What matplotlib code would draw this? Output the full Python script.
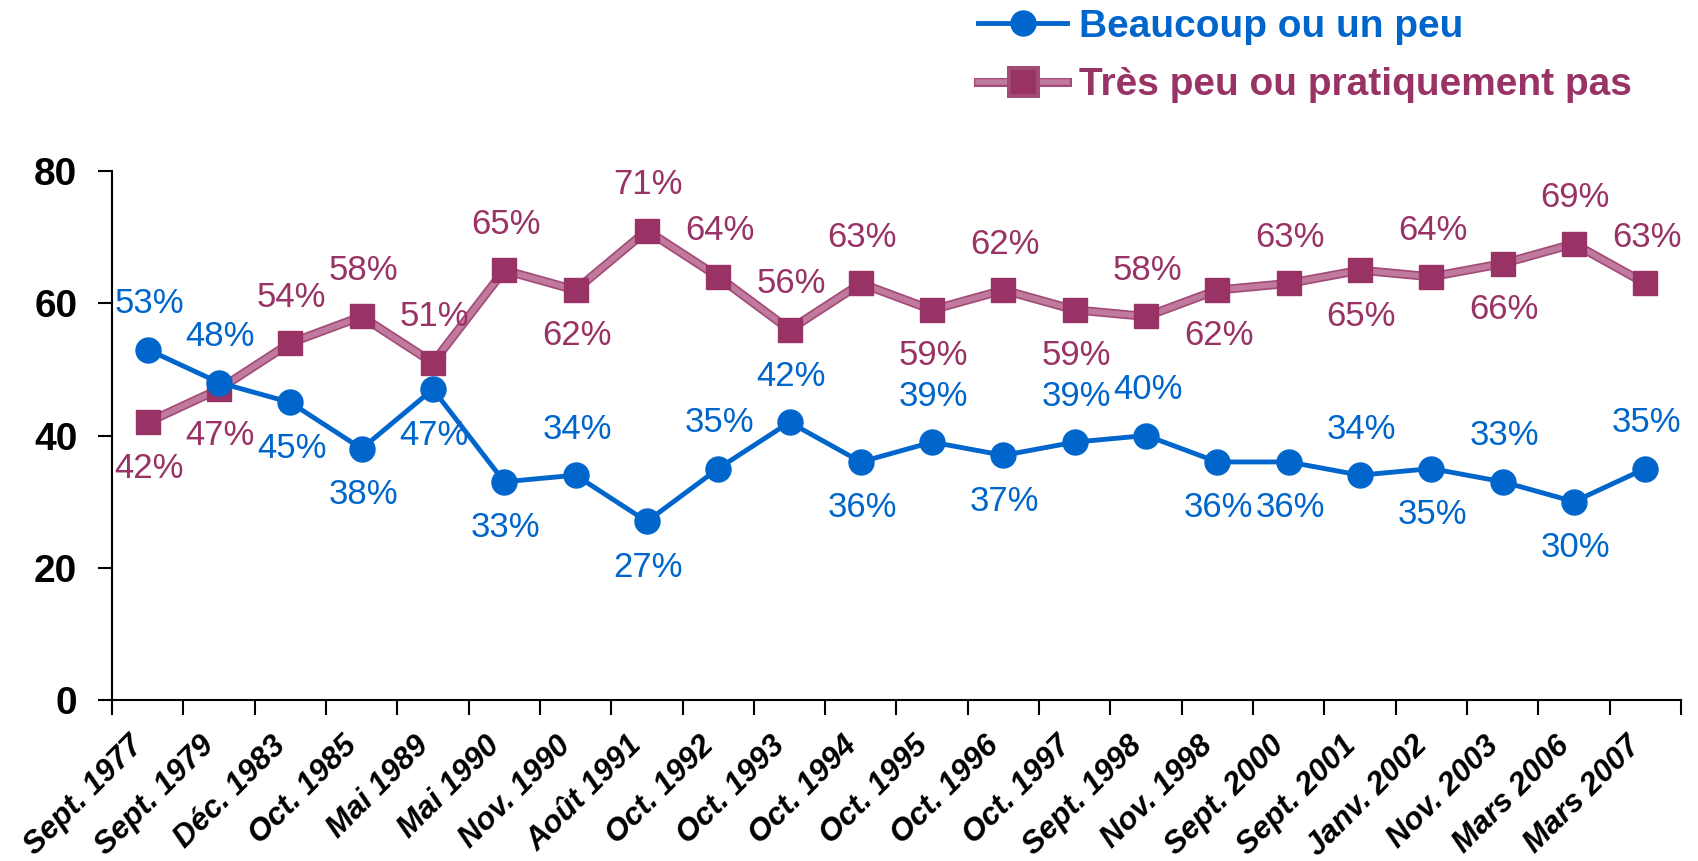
import matplotlib
matplotlib.use('Agg')
import matplotlib.pyplot as plt
import matplotlib.patheffects as pe
from matplotlib.lines import Line2D

# données
periodes = ["Sept. 1977", "Sept. 1979", "Déc. 1983", "Oct. 1985", "Mai 1989", "Mai 1990",
            "Nov. 1990", "Août 1991", "Oct. 1992", "Oct. 1993", "Oct. 1994", "Oct. 1995",
            "Oct. 1996", "Oct. 1997", "Sept. 1998", "Nov. 1998", "Sept. 2000", "Sept. 2001",
            "Janv. 2002", "Nov. 2003", "Mars 2006", "Mars 2007"]
beaucoup = [53, 48, 45, 38, 47, 33, 34, 27, 35, 42, 36, 39, 37, 39, 40, 36, 36, 34, 35, 33, 30, 35]
tres_peu = [42, 47, 54, 58, 51, 65, 62, 71, 64, 56, 63, 59, 62, 59, 58, 62, 63, 65, 64, 66, 69, 63]
# position des étiquettes : 1 = au-dessus, -1 = en dessous
pos_beaucoup = [1, 1, -1, -1, -1, -1, 1, -1, 1, 1, -1, 1, -1, 1, 1, -1, -1, 1, -1, 1, -1, 1]
pos_tres_peu = [-1, -1, 1, 1, 1, 1, -1, 1, 1, 1, 1, -1, 1, -1, 1, -1, 1, -1, 1, -1, 1, 1]

BLEU = "#0066CC"
BORDEAUX = "#993366"
ROSE = "#C07A9E"

plt.rcParams['font.family'] = ['Liberation Sans', 'DejaVu Sans']

fig = plt.figure(figsize=(16.99, 8.61), dpi=100)
ax = fig.add_axes([112 / 1699, 1 - 700 / 861, (1681 - 112) / 1699, (700 - 171) / 861])

# ligne "texturée" du bordeaux
trait = [pe.Stroke(linewidth=6.5, foreground="#A34C78"), pe.Normal()]

x = list(range(len(periodes)))
ax.plot(x, tres_peu, color=ROSE, lw=4, zorder=2, path_effects=trait)
ax.plot(x, tres_peu, ls='none', marker='s', ms=17, color=BORDEAUX, zorder=3)
ax.plot(x, beaucoup, color=BLEU, lw=3.5, marker='o', ms=18, zorder=4)

for xi, v, p in zip(x, beaucoup, pos_beaucoup):
    ax.annotate(f"{v}%", (xi, v), xytext=(1, 33 * p), textcoords='offset points',
                ha='center', va='center', fontsize=25, color=BLEU, zorder=5)
for xi, v, p in zip(x, tres_peu, pos_tres_peu):
    ax.annotate(f"{v}%", (xi, v), xytext=(1, 33 * p), textcoords='offset points',
                ha='center', va='center', fontsize=25, color=BORDEAUX, zorder=5)

ax.set_xlim(-0.5, len(periodes) - 0.5)
ax.set_ylim(0, 80)
ax.set_yticks([0, 20, 40, 60, 80])
ax.tick_params(axis='y', direction='out', length=10, width=1.5, pad=15, labelsize=28)
for lab in ax.get_yticklabels():
    lab.set_fontweight('bold')
ax.set_xticks([i - 0.5 for i in range(len(periodes) + 1)])
ax.set_xticklabels([])
ax.tick_params(axis='x', direction='out', length=11, width=1.5)
for s in ['top', 'right']:
    ax.spines[s].set_visible(False)
for s in ['left', 'bottom']:
    ax.spines[s].set_linewidth(1.5)

for xi, lab in zip(x, periodes):
    ax.annotate(lab, (xi, 0), xycoords=('data', 'axes fraction'), xytext=(-14, -22),
                textcoords='offset points', ha='right', va='top', rotation=45,
                rotation_mode='anchor', fontsize=22.5, fontweight='bold', fontstyle='italic')

handles = [Line2D([], [], color=BLEU, lw=3.5, marker='o', ms=18),
           Line2D([], [], color=ROSE, lw=4, marker='s', ms=17, mfc=BORDEAUX, mec=BORDEAUX,
                  path_effects=trait)]
leg = fig.legend(handles, ["Beaucoup ou un peu", "Très peu ou pratiquement pas"],
                 loc='upper left', bbox_to_anchor=(978 / 1699, 0.99), frameon=False,
                 borderpad=0, borderaxespad=0, handlelength=2.3, handletextpad=0.3,
                 labelspacing=0.58, prop={'size': 28, 'weight': 'bold'})
for t, c in zip(leg.get_texts(), [BLEU, BORDEAUX]):
    t.set_color(c)

plt.savefig("out.png", dpi=100)
plt.close()
